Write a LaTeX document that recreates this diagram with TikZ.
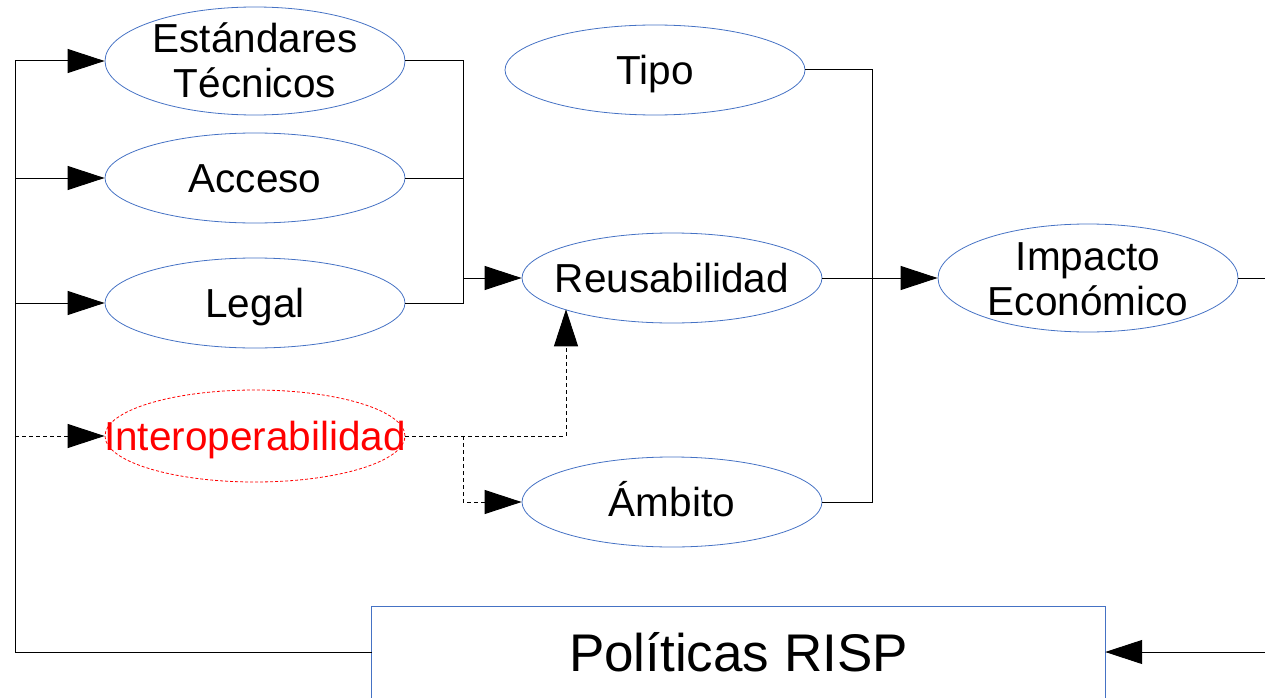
\documentclass[tikz,border=0pt]{standalone}
\usepackage{fontspec}
\setmainfont{Liberation Sans}
\usetikzlibrary{shapes.geometric,arrows.meta}
\definecolor{eblue}{RGB}{69,114,196}
\definecolor{ered}{RGB}{255,0,0}
\begin{document}
\begin{tikzpicture}[x=1pt,y=-1pt,
  ell/.style={ellipse,draw=eblue,line width=0.8pt,minimum width=300pt,minimum height=90pt,inner sep=0pt},
  txt/.style={font=\fontsize{40.5}{45}\selectfont,align=center,text depth=0pt,text height=29pt},
  conn/.style={line width=1pt,black},
  arr/.style={conn,-{Triangle[length=37pt,width=24pt]}},
  dsh/.style={dash pattern=on 4pt off 3pt}]
\useasboundingbox (0,0) rectangle (1265,698);
% ellipses
\node[ell,minimum height=108pt,label={[txt,text height=74pt]center:Estándares\\Técnicos}] (est) at (255,61) {};
\node[ell,label={[txt]center:Acceso}] (acc) at (255,178) {};
\node[ell,label={[txt]center:Legal}] (leg) at (255,303) {};
\node[ell,draw=ered,dash pattern=on 3pt off 2pt,minimum height=92pt,label={[txt,text=ered]center:Interoperabilidad}] (int) at (255,436) {};
\node[ell,label={[txt]center:Tipo}] (tipo) at (655,70) {};
\node[ell,label={[txt]center:Reusabilidad}] (reu) at (672,278) {};
\node[ell,label={[txt]center:Ámbito}] (amb) at (672,502) {};
\node[ell,minimum height=108pt,label={[txt,text height=74pt]center:Impacto\\Económico}] (imp) at (1088,278) {};
% policy box
\node[minimum width=733pt,minimum height=90pt,inner sep=0pt,font=\fontsize{53}{60}\selectfont,text depth=0pt,text height=38pt] (pol) at (738.5,652) {Políticas RISP};
\draw[eblue,line width=0.8pt] ([yshift=-40pt]pol.south west) rectangle (pol.north east);
% coordinates
\coordinate (ltop) at (15,61);
\coordinate (rj) at (463,278);
\coordinate (sj) at (872,278);
\coordinate (rout) at (1265,278);
\coordinate (rin) at (1265,652);
\coordinate (djoin) at (566,436);
\coordinate (dbr) at (463,436);
% left bus
\draw[arr] (pol.west) -| (ltop) -- (est.west);
\draw[arr] (ltop |- acc.west) -- (acc.west);
\draw[arr] (ltop |- leg.west) -- (leg.west);
\draw[arr,dsh] (ltop |- int.west) -- (int.west);
% right bus to reusabilidad
\draw[conn] (est.east) -| (rj |- leg.east) -- (leg.east);
\draw[conn] (acc.east) -- (rj |- acc.east);
\draw[arr] (rj) -- (reu.west);
% tipo / ambito bus
\draw[conn] (tipo.east) -| (sj |- amb.east) -- (amb.east);
\draw[arr] (reu.east) -- (imp.west);
\draw[conn] (imp.east) -- (rout);
\draw[arr] (rin) -- (pol.east);
% dashed from interoperabilidad
\draw[arr,dsh] (int.east) -- (djoin) -- (reu.196.8 -| djoin);
\draw[arr,dsh] (dbr) |- (amb.west);
\end{tikzpicture}
\end{document}
